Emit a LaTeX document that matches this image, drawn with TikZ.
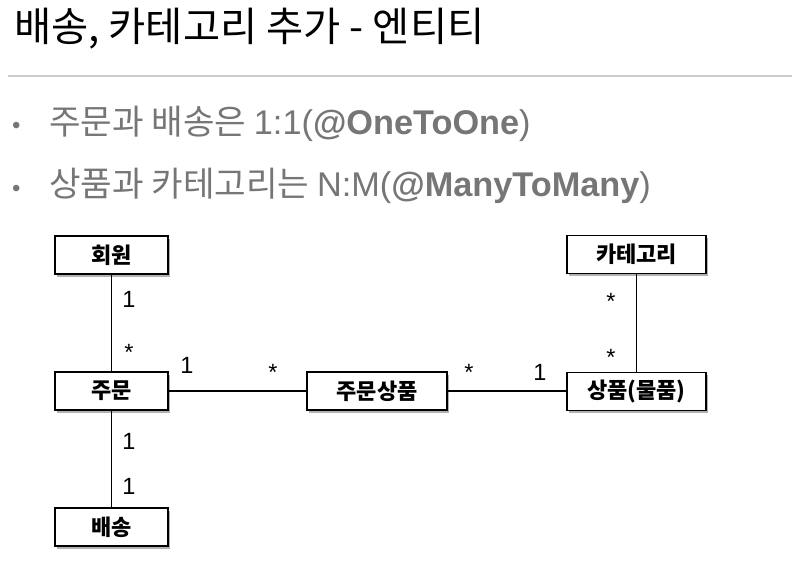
\documentclass[tikz,border=0pt]{standalone}
\usepackage{fontspec}
\setmainfont{Noto Sans CJK KR}
\newfontfamily\lab{Liberation Sans}
\usetikzlibrary{shadows}
\definecolor{bgrey}{HTML}{767676}
\definecolor{rulegrey}{HTML}{CCCCCC}
\begin{document}
\begin{tikzpicture}[x=1pt,y=-1pt,
  ent/.style={draw=black, line width=1.8pt, fill=white, minimum height=38pt, inner sep=0pt,
    font=\fontsize{22}{26}\selectfont\bfseries,
    drop shadow={shadow xshift=1.5pt, shadow yshift=-2.5pt, opacity=0.3, fill=black}},
  conn/.style={line width=1.5pt},
  mult/.style={font=\lab\fontsize{23.5}{26}\selectfont, inner sep=0pt, anchor=base},
  bullettext/.style={font=\fontsize{34.3}{40}\selectfont, text=bgrey, inner sep=0pt, anchor=base west},
  bulletdot/.style={font=\lab\fontsize{24}{28}\selectfont, text=bgrey, inner sep=0pt, anchor=base west},
]
\useasboundingbox (0,0) rectangle (792,587);
\fill[white] (0,0) rectangle (792,587);
% title
\node[anchor=base west, inner sep=0pt, font=\fontsize{40.4}{46}\selectfont] (title) at (14,41) {배송, 카테고리 추가 - 엔티티};
\coordinate (ruleL) at (8,76);
\coordinate (ruleR) at (792,76);
\draw[rulegrey, line width=1.5pt] (ruleL) -- (ruleR);
% bullets
\node[bulletdot] (b1dot) at (12,133) {•};
\node[bullettext] (b1) at (49,134) {주문과 배송은 {\lab 1:1(\textbf{@OneToOne})}};
\node[bulletdot] (b2dot) at (12,196) {•};
\node[bullettext] (b2) at (49,196) {상품과 카테고리는 {\lab N:M(\textbf{@ManyToMany})}};
% entities
\node[ent, minimum width=113pt] (member) at (111.5,255) {회원};
\node[ent, minimum width=113pt] (order) at (111.5,391) {주문};
\node[ent, minimum width=113pt] (delivery) at (111.5,527) {배송};
\node[ent, minimum width=140pt] (orderitem) at (377,391) {주문상품};
\node[ent, minimum width=139pt] (category) at (636.5,254.5) {카테고리};
\node[ent, minimum width=139pt] (item) at (636.5,391.5) {상품(물품)};
% connectors
\draw[conn] (member) -- (order);
\draw[conn] (order) -- (delivery);
\draw[conn] (order) -- (orderitem);
\draw[conn] (orderitem) -- (item.west |- orderitem);
\draw[conn] (category) -- (item);
% multiplicities
\node[mult] (m1) at (129,307) {1};
\node[mult] (m2) at (129,360) {*};
\node[mult] (m3) at (187,373) {1};
\node[mult] (m4) at (273,380) {*};
\node[mult] (m5) at (469,380) {*};
\node[mult] (m6) at (540,380) {1};
\node[mult] (m7) at (611,309) {*};
\node[mult] (m8) at (611,365) {*};
\node[mult] (m9) at (129,449) {1};
\node[mult] (m10) at (129,494) {1};
\end{tikzpicture}
\end{document}
